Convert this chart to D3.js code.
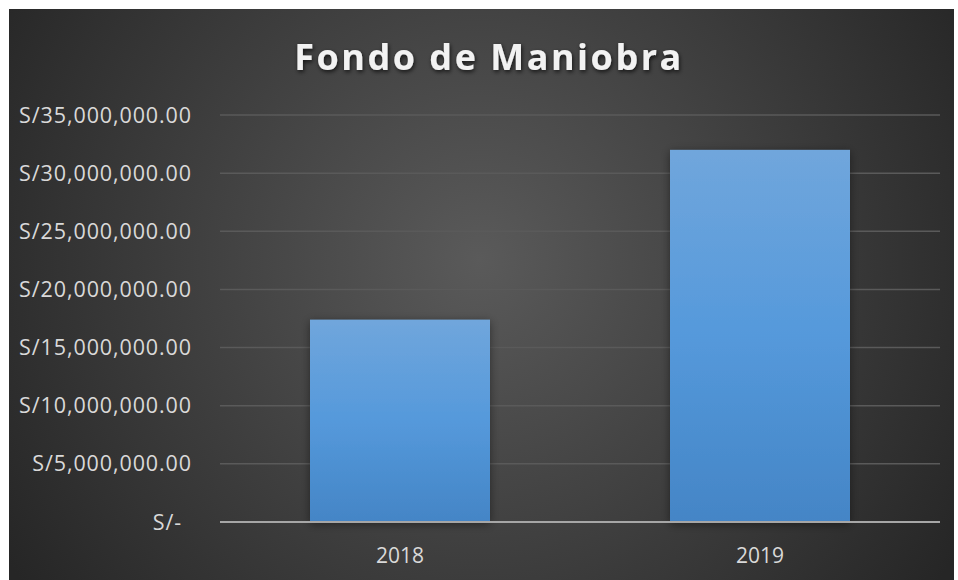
<!DOCTYPE html>
<html>
<head>
<meta charset="utf-8">
<script src="https://cdn.jsdelivr.net/npm/d3@7"></script>
<style>
  body { margin: 0; background: #fff; }
  svg { display: block; }
</style>
</head>
<body>
<div id="chart"></div>
<script>
const years = ["2018", "2019"];
const values = [17400000, 32000000];
const yTicks = [0, 5000000, 10000000, 15000000, 20000000, 25000000, 30000000, 35000000];
const title = "Fondo de Maniobra";

const width = 958, height = 580;
const box = { x: 9, y: 9, w: 945, h: 580 };
const margin = { top: 115, right: 14, bottom: 58, left: 220 };

const svg = d3.select("#chart").append("svg")
    .attr("width", width)
    .attr("height", height);

const defs = svg.append("defs");

const bg = defs.append("radialGradient")
    .attr("id", "bg")
    .attr("gradientUnits", "userSpaceOnUse")
    .attr("cx", 480).attr("cy", 260).attr("r", 560);
bg.append("stop").attr("offset", "0%").attr("stop-color", "#5a5a5a");
bg.append("stop").attr("offset", "100%").attr("stop-color", "#262626");

const barGrad = defs.append("linearGradient")
    .attr("id", "bar")
    .attr("x1", 0).attr("y1", 0).attr("x2", 0).attr("y2", 1);
barGrad.append("stop").attr("offset", "0%").attr("stop-color", "#70a6dc");
barGrad.append("stop").attr("offset", "50%").attr("stop-color", "#5599db");
barGrad.append("stop").attr("offset", "100%").attr("stop-color", "#4485c6");

const shadow = defs.append("filter").attr("id", "shadow")
    .attr("x", "-20%").attr("y", "-20%").attr("width", "140%").attr("height", "140%");
shadow.append("feDropShadow")
    .attr("dx", 0).attr("dy", 2).attr("stdDeviation", 5)
    .attr("flood-color", "#000").attr("flood-opacity", 0.45);

const titleShadow = defs.append("filter").attr("id", "tshadow");
titleShadow.append("feDropShadow")
    .attr("dx", 1).attr("dy", 2).attr("stdDeviation", 2)
    .attr("flood-color", "#000").attr("flood-opacity", 0.7);

svg.append("rect")
    .attr("x", box.x).attr("y", box.y)
    .attr("width", box.w).attr("height", box.h)
    .attr("fill", "url(#bg)");

const x = d3.scaleBand()
    .domain(years)
    .range([margin.left, width - margin.right - 4])
    .paddingInner(0.5)
    .paddingOuter(0.25);

const y = d3.scaleLinear()
    .domain([0, 35000000])
    .range([height - margin.bottom, margin.top]);

const fmt = v => v === 0 ? "S/-" : "S/" + d3.format(",.2f")(v);

// gridlines
svg.append("g")
    .selectAll("line")
    .data(yTicks.filter(d => d > 0))
    .join("line")
    .attr("x1", margin.left)
    .attr("x2", width - margin.right - 4)
    .attr("y1", d => y(d))
    .attr("y2", d => y(d))
    .attr("stroke", "#5a5a5a")
    .attr("stroke-width", 1.5);

// y labels
svg.append("g")
    .selectAll("text")
    .data(yTicks)
    .join("text")
    .attr("x", d => d === 0 ? 182 : 192)
    .attr("y", d => y(d))
    .attr("dy", "0.35em")
    .attr("text-anchor", "end")
    .attr("fill", "#d9d9d9")
    .style("font-family", "'Open Sans', sans-serif")
    .style("font-size", "21.5px")
    .style("letter-spacing", "0.9px")
    .text(fmt);

// bars
svg.append("g")
    .selectAll("rect")
    .data(values)
    .join("rect")
    .attr("x", (d, i) => x(years[i]))
    .attr("y", d => y(d))
    .attr("width", x.bandwidth())
    .attr("height", d => y(0) - y(d))
    .attr("fill", "url(#bar)")
    .attr("filter", "url(#shadow)");

// baseline
svg.append("line")
    .attr("x1", margin.left)
    .attr("x2", width - margin.right - 4)
    .attr("y1", y(0))
    .attr("y2", y(0))
    .attr("stroke", "#a6a6a6")
    .attr("stroke-width", 2);

// x labels
svg.append("g")
    .selectAll("text")
    .data(years)
    .join("text")
    .attr("x", d => x(d) + x.bandwidth() / 2)
    .attr("y", 556)
    .attr("dy", "0.35em")
    .attr("text-anchor", "middle")
    .attr("fill", "#d9d9d9")
    .style("font-family", "'Open Sans', sans-serif")
    .style("font-size", "21px")
    .text(d => d);

// title
svg.append("text")
    .attr("x", 489)
    .attr("y", 70)
    .attr("text-anchor", "middle")
    .attr("fill", "#f2f2f2")
    .attr("filter", "url(#tshadow)")
    .style("font-family", "'Open Sans', sans-serif")
    .style("font-size", "36px")
    .style("font-weight", "bold")
    .style("letter-spacing", "2.5px")
    .text(title);
</script>
</body>
</html>
